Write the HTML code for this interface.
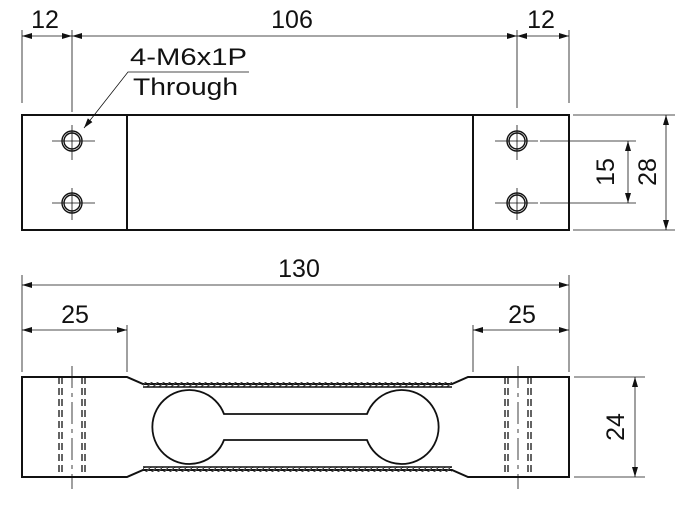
<!DOCTYPE html>
<html><head><meta charset="utf-8"><style>
html,body{margin:0;padding:0;background:#fff;width:695px;height:508px;overflow:hidden}
svg text{font-family:"Liberation Sans",Arial,sans-serif;fill:#111}
</style></head><body>
<svg width="695" height="508" viewBox="0 0 695 508" xmlns="http://www.w3.org/2000/svg">
<defs>
<marker id="a" viewBox="0 0 10 6" refX="10" refY="3" markerWidth="10" markerHeight="6" orient="auto-start-reverse" markerUnits="userSpaceOnUse"><path d="M0,0 L10,3 L0,6 z" fill="#111"/></marker>
<pattern id="h" width="6" height="6" patternUnits="userSpaceOnUse"><path d="M0,6 L6,0" stroke="#444" stroke-width="1.4"/></pattern>
</defs>
<g stroke="#111" fill="none">
<rect x="22" y="115" width="547" height="115" stroke-width="2"/>
<line x1="127" y1="115" x2="127" y2="230" stroke-width="2"/>
<line x1="473" y1="115" x2="473" y2="230" stroke-width="2"/>
<g stroke-width="1.4">
<circle cx="72" cy="141" r="10"/><circle cx="72" cy="141" r="8"/>
<circle cx="72" cy="203" r="10"/><circle cx="72" cy="203" r="8"/>
<circle cx="517" cy="141" r="10"/><circle cx="517" cy="141" r="8"/>
<circle cx="517" cy="203" r="10"/><circle cx="517" cy="203" r="8"/>
</g>
<g stroke-width="0.8">
<line x1="52" y1="141" x2="95" y2="141"/><line x1="72" y1="125" x2="72" y2="160"/>
<line x1="52" y1="203" x2="95" y2="203"/><line x1="72" y1="188" x2="72" y2="220"/>
<line x1="495" y1="141" x2="538" y2="141"/><line x1="517" y1="125" x2="517" y2="160"/>
<line x1="495" y1="203" x2="538" y2="203"/><line x1="517" y1="188" x2="517" y2="220"/>
<line x1="540" y1="141" x2="636" y2="141"/><line x1="540" y1="203" x2="636" y2="203"/>
<line x1="573" y1="115" x2="675" y2="115"/><line x1="573" y1="230" x2="675" y2="230"/>
<line x1="22" y1="30" x2="22" y2="103"/><line x1="72" y1="30" x2="72" y2="112"/>
<line x1="517" y1="30" x2="517" y2="108"/><line x1="569" y1="30" x2="569" y2="103"/>
<line x1="22" y1="36" x2="72" y2="36" marker-start="url(#a)" marker-end="url(#a)"/>
<line x1="72" y1="36" x2="517" y2="36" marker-start="url(#a)" marker-end="url(#a)"/>
<line x1="517" y1="36" x2="569" y2="36" marker-start="url(#a)" marker-end="url(#a)"/>
<line x1="628" y1="141" x2="628" y2="203" marker-start="url(#a)" marker-end="url(#a)"/>
<line x1="666" y1="115" x2="666" y2="230" marker-start="url(#a)" marker-end="url(#a)"/>
<polyline points="249,72 128,72 84,128" marker-end="url(#a)"/>
</g>
<path d="M22,377 H127 L143,384 H452 L468,377 H569 V477 H468 L452,470 H143 L127,477 H22 Z" stroke-width="2"/>
<rect x="143" y="382" width="309" height="5" fill="url(#h)" stroke="none"/>
<rect x="143" y="467" width="309" height="5" fill="url(#h)" stroke="none"/>
<line x1="143" y1="387" x2="452" y2="387" stroke-width="1.5"/>
<line x1="143" y1="467" x2="452" y2="467" stroke-width="1.5"/>
<path d="M224,414 A37,37 0 1 0 224,440 H367 A37,37 0 1 0 367,414 Z" stroke-width="1.8"/>
<g stroke-width="1.3" stroke-dasharray="7,4">
<line x1="59" y1="377" x2="59" y2="477"/><line x1="62" y1="377" x2="62" y2="477"/>
<line x1="82" y1="377" x2="82" y2="477"/><line x1="85" y1="377" x2="85" y2="477"/>
<line x1="505" y1="377" x2="505" y2="477"/><line x1="508" y1="377" x2="508" y2="477"/>
<line x1="528" y1="377" x2="528" y2="477"/><line x1="531" y1="377" x2="531" y2="477"/>
</g>
<g stroke-width="0.8" stroke-dasharray="22,5,4,5">
<line x1="72" y1="366" x2="72" y2="489"/><line x1="518" y1="366" x2="518" y2="489"/>
</g>
<g stroke-width="0.8">
<line x1="22" y1="275" x2="22" y2="372"/><line x1="569" y1="275" x2="569" y2="372"/>
<line x1="127" y1="325" x2="127" y2="372"/><line x1="473" y1="325" x2="473" y2="372"/>
<line x1="22" y1="285" x2="569" y2="285" marker-start="url(#a)" marker-end="url(#a)"/>
<line x1="22" y1="330" x2="127" y2="330" marker-start="url(#a)" marker-end="url(#a)"/>
<line x1="473" y1="330" x2="569" y2="330" marker-start="url(#a)" marker-end="url(#a)"/>
<line x1="574" y1="377" x2="645" y2="377"/><line x1="574" y1="477" x2="645" y2="477"/>
<line x1="635" y1="377" x2="635" y2="477" marker-start="url(#a)" marker-end="url(#a)"/>
</g>
</g>
<g font-size="25">
<text x="45" y="28" text-anchor="middle">12</text>
<text x="292" y="28" text-anchor="middle">106</text>
<text x="541" y="28" text-anchor="middle">12</text>
<text x="130" y="65" textLength="117" lengthAdjust="spacingAndGlyphs" font-size="24">4-M6x1P</text>
<text x="133" y="95" textLength="105" lengthAdjust="spacingAndGlyphs" font-size="24">Through</text>
<text transform="translate(614,172) rotate(-90)" text-anchor="middle">15</text>
<text transform="translate(656,172) rotate(-90)" text-anchor="middle">28</text>
<text x="299" y="277" text-anchor="middle">130</text>
<text x="75" y="323" text-anchor="middle">25</text>
<text x="522" y="323" text-anchor="middle">25</text>
<text transform="translate(624,427) rotate(-90)" text-anchor="middle">24</text>
</g>
</svg>
</body></html>
